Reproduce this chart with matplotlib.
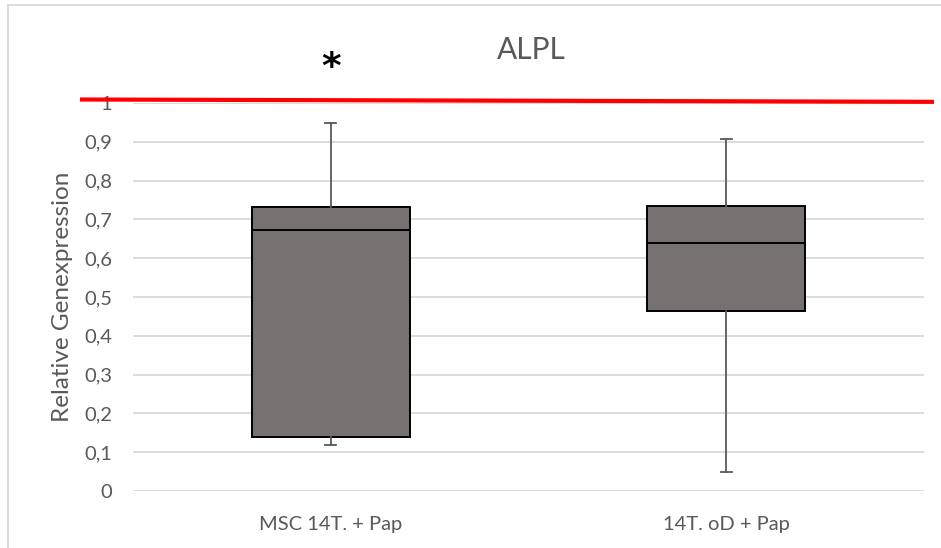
import matplotlib.pyplot as plt
from matplotlib.patches import Rectangle
import matplotlib.transforms as mtransforms

plt.rcParams['font.family'] = ['Lato', 'DejaVu Sans']

# data
groups = ['MSC 14T. + Pap', '14T. oD + Pap']
whis_lo = [0.118, 0.048]
q1 = [0.140, 0.463]
median = [0.672, 0.640]
q3 = [0.731, 0.735]
whis_hi = [0.948, 0.908]
yticks = [0, 0.1, 0.2, 0.3, 0.4, 0.5, 0.6, 0.7, 0.8, 0.9, 1.0]
ytick_labels = ['0', '0,1', '0,2', '0,3', '0,4', '0,5', '0,6', '0,7', '0,8', '0,9', '1']
ref_line = [1.009, 1.003]   # hand drawn red line, slightly tilted
star_y = 1.09

box_color = '#767171'
grid_color = '#d9d9d9'
text_color = '#595959'

fig = plt.figure(figsize=(9.41, 5.48), dpi=100)
ax = fig.add_axes([133 / 941, 57 / 548, 791 / 941, 388 / 548])

stats = []
for i in range(len(groups)):
    stats.append(dict(whislo=whis_lo[i], q1=q1[i], med=median[i],
                      q3=q3[i], whishi=whis_hi[i], label=groups[i]))

ax.bxp(stats, positions=range(len(groups)), widths=0.4, patch_artist=True,
       showfliers=False,
       boxprops=dict(facecolor=box_color, edgecolor='black', linewidth=1.4),
       medianprops=dict(color='black', linewidth=1.4),
       whiskerprops=dict(color=text_color, linewidth=1.3),
       capprops=dict(color=text_color, linewidth=1.3),
       capwidths=0.028, zorder=3)

ax.set_xlim(-0.5, 1.5)
ax.set_ylim(0, 1)
ax.set_yticks(yticks)
ax.set_yticklabels(ytick_labels)
ax.yaxis.grid(True, color=grid_color, linewidth=1.3)
ax.set_axisbelow(True)
for s in ax.spines.values():
    s.set_visible(False)
ax.tick_params(length=0, labelsize=14.5, labelcolor=text_color)
ax.tick_params(axis='y', pad=15)
ax.tick_params(axis='x', pad=18)
ax.set_ylabel('Relative Genexpression', fontsize=17.5, color=text_color, labelpad=8)

# red reference line, runs past the plot area
trans = mtransforms.blended_transform_factory(ax.transAxes, ax.transData)
ax.plot([-0.0645, 1.010], ref_line, color='#ff0000', linewidth=3,
        transform=trans, clip_on=False, zorder=5)

ax.text(0, star_y, '*', ha='center', va='center', fontsize=27,
        fontweight='bold', color='black', family='DejaVu Sans')

fig.text(531 / 941, 1 - 50 / 548, 'ALPL', ha='center', va='center',
         fontsize=21.5, color=text_color)

# chart frame
fig.patches.append(Rectangle((8 / 941, -0.1), 1.2, 1.1 - 5 / 548,
                             transform=fig.transFigure, fill=False,
                             edgecolor=grid_color, linewidth=1.3))

fig.savefig('out.png', dpi=100)
plt.close(fig)
